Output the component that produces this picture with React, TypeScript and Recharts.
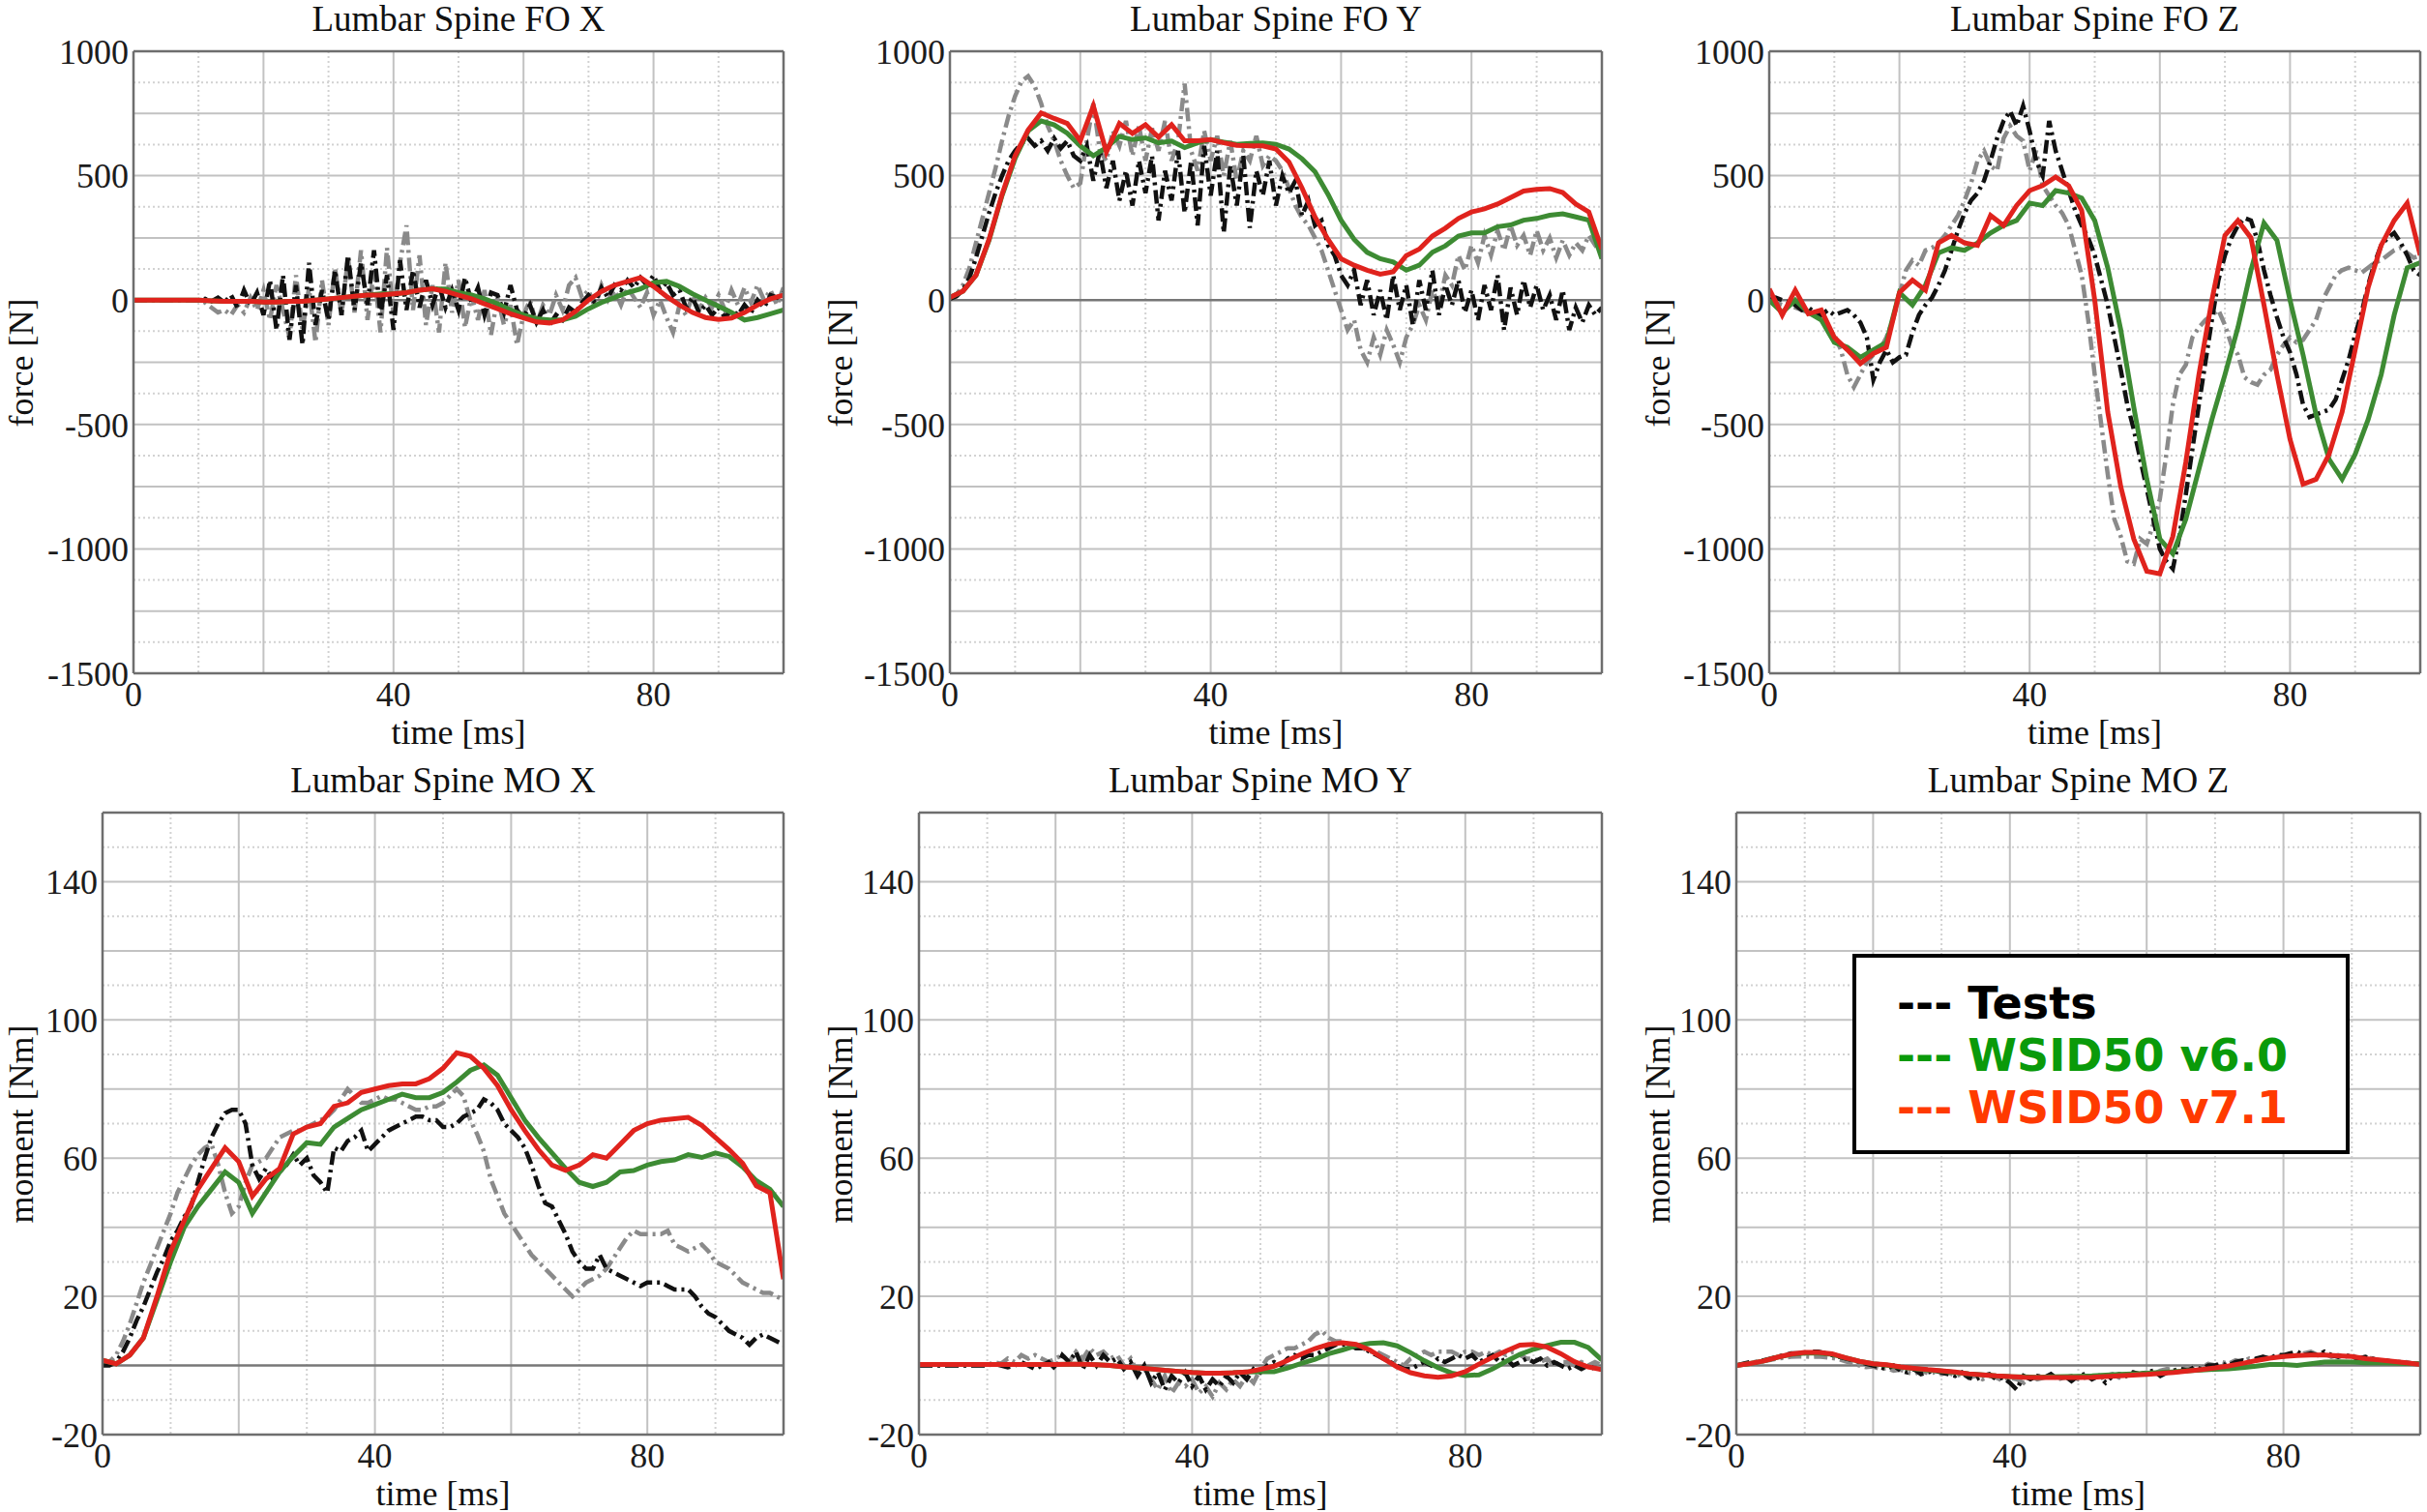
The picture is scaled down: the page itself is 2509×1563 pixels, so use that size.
import { CartesianGrid, Line, LineChart, ReferenceLine, XAxis, YAxis } from "recharts";

// sample instants [ms]
const T1 = [
  0, 1, 2, 3, 4, 5, 6, 7, 8, 9, 10, 11, 12, 13, 14, 15, 16, 17, 18, 19, 20, 21, 22, 23, 24, 25, 26, 27, 28, 29, 30,
  31, 32, 33, 34, 35, 36, 37, 38, 39, 40, 41, 42, 43, 44, 45, 46, 47, 48, 49, 50, 51, 52, 53, 54, 55, 56, 57, 58, 59,
  60, 61, 62, 63, 64, 65, 66, 67, 68, 69, 70, 71, 72, 73, 74, 75, 76, 77, 78, 79, 80, 81, 82, 83, 84, 85, 86, 87, 88,
  89, 90, 91, 92, 93, 94, 95, 96, 97, 98, 99, 100,
];
const T2 = [
  0, 2, 4, 6, 8, 10, 12, 14, 16, 18, 20, 22, 24, 26, 28, 30, 32, 34, 36, 38, 40, 42, 44, 46, 48, 50, 52, 54, 56, 58,
  60, 62, 64, 66, 68, 70, 72, 74, 76, 78, 80, 82, 84, 86, 88, 90, 92, 94, 96, 98, 100,
];

// Lumbar Spine FO X
const foxTestA = [
  0, 0, 0, 0, 0, 0, 0, 0, 0, 0,
  0, 5, -5, 10, -10, 20, -30, 40, -20, 30,
  -60, 80, -120, 100, -160, 60, -180, 150, -100, 40,
  -80, 120, -60, 180, -40, 150, -20, 200, -60, 100,
  -120, 160, -40, 120, -30, 80, -20, 60, -30, 40,
  -40, 90, -10, 50, -60, 30, 20, -50, 60, -40,
  -70, -20, -90, -40, -100, -60, -80, -30, -50, -10,
  20, -10, 50, 10, 60, 40, 80, 50, 90, 60,
  100, 40, 70, 20, 40, -30, 10, -50, -20, -60,
  -30, -70, -40, -60, -20, -50, 0, -30, 20, 10, 30,
];
const foxTestB = [
  0, 0, 0, 0, 0, 0, 0, 0, 0, 0,
  0, -10, -30, -50, -40, -60, -20, -50, 10, -40,
  40, -80, 60, -40, -150, 100, -120, 50, -170, 80,
  -100, 130, -60, 170, -50, 200, -80, 120, -130, 210,
  -60, 150, 300, -40, 180, -100, 60, -130, 150, -50,
  80, -110, 20, -80, 40, -140, 10, -100, -20, -180,
  -60, 0, -100, -20, -60, 20, -40, 60, 90, 10,
  40, -30, 60, 0, 40, -20, 50, 10, -30, 30,
  -60, 0, -70, -130, -20, -60, 20, -40, 10, -30,
  20, -40, 40, -20, 50, -10, 60, 0, 40, -20, 50,
];
const foxV60 = [
  0, 0, 0, 0, 0, 0, -3, -5, -5, -5,
  -8, -8, -5, -5, 0, 5, 10, 15, 20, 25,
  25, 30, 40, 45, 45, 30, 20, 5, -15, -40,
  -60, -75, -80, -80, -65, -35, -10, 10, 30, 45,
  70, 75, 55, 25, 0, -25, -50, -80, -70, -55, -40,
];
const foxV71 = [
  0, 0, 0, 0, 0, 0, -3, -5, -5, -5,
  -8, -8, -5, -5, 0, 5, 10, 15, 20, 20,
  25, 30, 40, 45, 35, 20, 5, -15, -35, -55,
  -72, -88, -92, -80, -45, 0, 35, 60, 75, 90,
  55, 15, -20, -50, -70, -78, -72, -50, -20, 5, 20,
];

// Lumbar Spine FO Y
const foyTestA = [
  5, 15, 40, 90, 170, 260, 350, 430, 500, 560,
  600, 630, 650, 620, 640, 600, 650, 610, 640, 580,
  560, 620, 480, 600, 450, 560, 400, 520, 380, 560,
  430, 580, 320, 520, 400, 600, 350, 560, 300, 620,
  420, 600, 270, 540, 380, 580, 290, 520, 420, 560,
  380, 500, 430, 480, 340, 400, 300, 320, 220, 180,
  100, 60, 120, -20, 80, -60, 40, -80, 100, -40,
  60, -100, 80, -40, 120, -60, 60, -20, 80, -50,
  40, -80, 60, -40, 100, -120, 50, -60, 80, -30,
  60, -40, 20, -80, 40, -120, -30, -90, -20, -60, -30,
];
const foyTestB = [
  5, 20, 60, 130, 230, 330, 430, 530, 640, 740,
  820, 880, 900, 860, 790, 700, 640, 560, 500, 450,
  470, 640, 790, 600, 560, 680, 620, 720, 580, 700,
  560, 690, 600, 720, 560, 640, 870, 600, 520, 680,
  560, 660, 500, 640, 480, 600, 560, 660, 540, 580,
  560, 520, 450, 380, 330, 300, 250, 200, 120, 40,
  -40, -120, -80, -200, -250, -150, -220, -120, -180, -250,
  -150, -100, -20, -80, 40, -20, 100, 60, 180, 120,
  220, 150, 260, 180, 280, 200, 300, 220, 260, 180,
  280, 200, 250, 170, 240, 180, 230, 200, 260, 220, 240,
];
const foyV60 = [
  10, 36, 100, 240, 420, 570, 680, 720, 704, 671,
  620, 580, 613, 658, 645, 652, 632, 639, 613, 632,
  645, 635, 626, 630, 632, 626, 607, 568, 516, 425,
  321, 244, 192, 166, 153, 120, 140, 192, 218, 257,
  270, 270, 295, 302, 321, 328, 341, 347, 334, 321, 166,
];
const foyV71 = [
  10, 36, 100, 244, 425, 580, 684, 752, 730, 710,
  640, 780, 595, 710, 670, 705, 655, 705, 640, 640,
  645, 632, 622, 620, 620, 607, 555, 451, 334, 244,
  166, 140, 120, 104, 114, 179, 205, 257, 289, 328,
  354, 367, 386, 412, 438, 445, 448, 432, 386, 354, 205,
];

// Lumbar Spine FO Z
const fozTestA = [
  0, 10, 0, -10, -20, -40, -30, -50, -60, -40,
  -60, -50, -40, -60, -90, -150, -320, -250, -200, -250,
  -230, -220, -130, -60, -20, 10, 60, 120, 200, 280,
  350, 400, 430, 480, 560, 650, 720, 760, 700, 780,
  680, 560, 500, 720, 600, 520, 440, 360, 300, 250,
  180, 80, -20, -150, -280, -420, -520, -640, -760, -880,
  -1000, -1050, -1080, -950, -780, -600, -420, -250, -80, 80,
  180, 250, 300, 330, 320, 240, 120, 20, -70, -150,
  -210, -300, -420, -470, -460, -450, -440, -400, -320, -240,
  -140, -50, 60, 150, 220, 250, 270, 230, 180, 120, 100,
];
const fozTestB = [
  0, -10, -20, -20, -30, -40, -50, -60, -80, -110,
  -140, -200, -300, -350, -300, -250, -220, -200, -150, -80,
  20, 120, 160, 140, 200, 210, 230, 260, 300, 340,
  400, 470, 560, 600, 540, 520, 650, 700, 660, 640,
  520, 600, 460, 420, 380, 350, 300, 200, 100, -80,
  -300, -500, -700, -880, -950, -1050, -1060, -960, -980, -900,
  -800, -620, -420, -300, -260, -150, -110, -80, -60, -40,
  -100, -180, -220, -310, -330, -340, -300, -280, -220, -180,
  -150, -170, -160, -120, -80, 0, 50, 100, 120, 130,
  120, 110, 130, 150, 160, 180, 200, 210, 190, 170, 180,
];
const fozV60 = [
  0, -50, 0, -50, -80, -170, -190, -230, -200, -170,
  30, -20, 60, 190, 210, 200, 230, 270, 300, 320,
  390, 380, 440, 430, 410, 320, 130, -120, -430, -720,
  -960, -1020, -880, -680, -480, -300, -110, 120, 310, 240,
  0, -220, -460, -640, -720, -620, -480, -300, -60, 130, 150,
];
const fozV71 = [
  45, -60, 40, -55, -40, -150, -200, -255, -215, -190,
  30, 80, 40, 230, 260, 230, 220, 340, 300, 380,
  440, 460, 495, 460, 360, 0, -450, -750, -960, -1090,
  -1100, -950, -650, -300, 0, 260, 320, 250, -20, -300,
  -560, -740, -720, -620, -450, -200, 50, 220, 320, 390, 180,
];

// Lumbar Spine MO X
const moxTestA = [
  0, 0, 1, 4, 8, 13, 17, 22, 27, 31,
  36, 39, 43, 46, 53, 60, 66, 70, 73, 74,
  74, 70, 58, 54, 57, 54, 56, 58, 61, 58,
  60, 55, 53, 50, 63, 62, 65, 66, 68, 62,
  64, 66, 68, 69, 70, 71, 72, 72, 71, 71,
  69, 69, 70, 72, 73, 74, 77, 76, 74, 70,
  68, 66, 63, 58, 52, 47, 46, 42, 38, 33,
  30, 28, 28, 32, 28, 27, 26, 25, 24, 23,
  24, 24, 24, 23, 22, 22, 22, 20, 17, 15,
  14, 12, 10, 9, 8, 6, 8, 9, 8, 7, 6,
];
const moxTestB = [
  0, 1, 3, 7, 12, 18, 24, 29, 34, 39,
  44, 50, 54, 58, 61, 63, 64, 58, 50, 44,
  46, 53, 58, 59, 60, 63, 66, 67, 68, 68,
  69, 70, 71, 72, 74, 77, 80, 78, 76, 76,
  77, 78, 77, 77, 76, 75, 74, 74, 75, 75,
  76, 78, 80, 78, 71, 67, 62, 54, 49, 44,
  41, 38, 35, 32, 30, 28, 26, 24, 22, 20,
  22, 24, 25, 26, 28, 31, 34, 37, 39, 38,
  38, 38, 38, 39, 35, 34, 33, 34, 35, 33,
  30, 29, 28, 26, 24, 23, 22, 21, 21, 20, 19,
];
const moxV60 = [
  1.5, 0.5, 3, 8, 19, 30, 40, 46, 51, 56,
  53, 44, 50, 56, 60.5, 64.5, 64, 69, 71.5, 74,
  75.5, 77, 78.5, 77.5, 77.5, 79, 82, 85.4, 87, 84,
  77.5, 71, 66, 61.5, 57, 53, 51.8, 53, 56, 56.4,
  58, 59, 59.5, 61, 60.2, 61.5, 60.5, 57.5, 53.5, 51, 46,
];
const moxV71 = [
  1.5, 0.5, 3, 8, 20, 33, 42, 51, 57, 63,
  59, 49, 54, 57, 67, 69, 70, 75, 76, 79,
  80, 81, 81.5, 81.5, 83, 86, 90.5, 89.5, 86, 81,
  74, 68, 62.5, 58, 56.5, 58, 61, 60, 64, 68,
  70, 71, 71.4, 71.8, 69.5, 66, 62.5, 58.5, 52, 50, 25,
];

// Lumbar Spine MO Y
const moyTestA = [
  0, 0, 0, 0, 0, 0, 0, 0, 0, 0,
  0, 0.5, 0, -0.5, 0, 1, 0, -1, 0, 1,
  -1, 3, 1, 4, -1, 3, 0, 3, 1, 2,
  -1, 1, -3, 0, -5, -2, -7, -3, -5, -2,
  -6, -3, -7, -4, -6, -3, -5, -2, -4, -1,
  -2, 0, 1, 0, 2, 3, 2, 3, 3, 4,
  5, 6, 6, 6, 5, 5, 4, 3, 2, 1,
  0, -1, -1, 0, 1, 0, 2, 1, 2, 3,
  2, 3, 1, 2, 3, 1, 2, 0, 1, 2,
  1, 2, 0, 1, 0, -1, 0, -1, 0, -1, -1,
];
const moyTestB = [
  0, 0, 0, 0, 0, 0, 0, 0, 0, 0,
  0, 1, 0.5, 2, 1, 3, 2, 3, 2, 1,
  2, 3, 1, 4, 2, 5, 3, 4, 2, 3,
  0, 2, -2, -1, -4, -7, -3, -8, -5, -6,
  -4, -8, -6, -9, -5, -7, -4, -6, -3, -5,
  -1, 2, 3, 4, 5, 5, 6, 7, 9, 10,
  8, 7, 7, 6, 5, 5, 4, 4, 3, 2,
  1, 0, 2, 3, 4, 3, 4, 4, 4, 3,
  4, 4, 3, 4, 3, 4, 3, 4, 3, 2,
  2, 1, 2, 0, 1, 1, 0, 1, 0, 1, 0,
];
const moyV60 = [
  0.3, 0.3, 0.3, 0.3, 0.3, 0.3, 0.3, 0.3, 0.3, 0.3,
  0.3, 0.4, 0.4, 0.2, 0, -0.4, -0.7, -1, -1.4, -1.7,
  -2, -2.2, -2.2, -2.1, -1.9, -1.8, -1.8, -0.7, 0.6, 1.8,
  3.4, 4.5, 5.7, 6.4, 6.6, 5.7, 3.7, 1.4, -0.6, -2.2,
  -2.9, -2.7, -1, 1.2, 3.2, 4.7, 5.8, 6.7, 6.7, 5.2, 1.6,
];
const moyV71 = [
  0.3, 0.3, 0.3, 0.3, 0.3, 0.3, 0.3, 0.3, 0.3, 0.3,
  0.3, 0.4, 0.4, 0.2, 0, -0.4, -0.7, -1, -1.4, -1.7,
  -2, -2.2, -2.2, -2.1, -1.9, -1.1, -0.2, 1.5, 3.3, 4.9,
  6.1, 6.6, 6.1, 4.5, 2, -0.4, -2.1, -3, -3.4, -3,
  -1.8, 0.4, 2.4, 4.2, 5.9, 6.1, 5.3, 3.4, 1.1, -0.4, -1.2,
];

// Lumbar Spine MO Z
const mozTestA = [
  0, 0.5, 1, 1, 1.5, 2, 2.5, 3, 3.5, 3.5,
  3.5, 4, 4, 3.5, 3, 2.5, 2, 1.5, 1, 0.5,
  0, -0.5, -1, 0, -1.5, -2, -1, -2.5, -2, -1.5,
  -2, -2.5, -3, -2, -3.5, -4, -3, -2.5, -4, -3.5,
  -5, -7, -3, -4, -3, -3.5, -2.5, -4, -3, -4.5,
  -3, -2.5, -4, -3, -5, -3, -2.5, -3, -2, -2.5,
  -2, -1.5, -3, -2, -1.5, -1, -1.5, -0.5, -1, 0,
  0, 0.5, 0, 1, 1.5, 1, 2, 2.5, 2, 3,
  3, 3.5, 4, 3, 3.5, 3, 4, 3, 2.5, 3,
  2.5, 2, 2.5, 2, 1.5, 1.5, 1, 1, 0.5, 0.5, 0.5,
];
const mozTestB = [
  0, 0.3, 0.6, 1, 1.3, 1.6, 2, 2.2, 2.5, 2.6,
  2.6, 2.5, 2.6, 2.4, 2.2, 1.8, 1.2, 0.6, 0, -0.5,
  -0.3, -1, -0.8, -1.5, -1.2, -2, -2.5, -1.5, -2.2, -2,
  -2.5, -2, -3, -2.5, -3.5, -3, -4, -3, -3.5, -4.5,
  -3.5, -4, -5, -3, -4, -3.5, -3, -4, -3.5, -3,
  -4, -3.5, -3, -4, -3, -2.5, -3.5, -3, -2, -2.5,
  -2, -2.5, -1.5, -1, -1.5, -0.5, -1, 0, -0.5, 0.5,
  0, 1, 0.5, 1.5, 1, 2, 1.5, 2.5, 2, 3,
  2.5, 3.5, 3, 3.5, 4, 3, 3.5, 2.5, 3, 2.5,
  3, 2, 2.5, 2, 1.5, 1, 1.5, 0.5, 1, 0.5, 0.5,
];
const mozV60 = [
  0, 0.6, 1.3, 2.4, 3.2, 3.6, 3.6, 3.2, 2.2, 1.2,
  0.5, 0.1, -0.5, -0.9, -1.3, -1.6, -2, -2.4, -2.7, -3,
  -3.2, -3.3, -3.4, -3.3, -3.2, -3.1, -3, -2.8, -2.6, -2.4,
  -2.2, -2, -1.8, -1.5, -1.3, -1.1, -1, -0.6, -0.2, 0.3,
  0.3, 0, 0.5, 1, 1.1, 1, 0.8, 0.8, 0.7, 0.6, 0.5,
];
const mozV71 = [
  0, 0.6, 1.3, 2.4, 3.3, 3.8, 3.8, 3.4, 2.2, 1.2,
  0.5, 0.2, -0.4, -0.8, -1.2, -1.5, -1.9, -2.4, -2.7, -3,
  -3.2, -3.4, -3.5, -3.5, -3.5, -3.5, -3.4, -3.2, -3, -2.8,
  -2.6, -2.3, -2, -1.6, -1.2, -0.7, -0.1, 0.6, 1.4, 2.1,
  2.6, 2.9, 3, 3, 2.8, 2.6, 2, 1.6, 1.2, 0.8, 0.3,
];

// axes and grid
const TIME_TICKS = [0, 40, 80];
const TIME_MAJOR = [20, 40, 60, 80];
const TIME_MINOR = [10, 30, 50, 70, 90];
const FORCE_TICKS = [1000, 500, 0, -500, -1000, -1500];
const FORCE_MAJOR = [-1250, -1000, -750, -500, -250, 250, 500, 750];
const FORCE_MINOR = [-1375, -1125, -875, -625, -375, -125, 125, 375, 625, 875];
const MOMENT_TICKS = [-20, 20, 60, 100, 140];
const MOMENT_MAJOR = [20, 40, 60, 80, 100, 120, 140];
const MOMENT_MINOR = [-10, 10, 30, 50, 70, 90, 110, 130, 150];

const LEGEND_ITEMS = [
  { label: "--- Tests", color: "#000000" },
  { label: "--- WSID50 v6.0", color: "#0a9a0a" },
  { label: "--- WSID50 v7.1", color: "#ff3a00" },
];

const FONT = '"Liberation Serif", "Times New Roman", serif';
const LEGEND_FONT = '"DejaVu Sans", Verdana, sans-serif';
const MT = 30;
const MR = 5;
const XH = 50;

type Row = { t: number; v: number };
type Series = { name: string; rows: Row[]; color: string; width: number; dash?: string };
type Panel = {
  title: string;
  yLabel: string;
  left: number;
  top: number;
  width: number;
  height: number;
  yAxisWidth: number;
  yLabelX: number;
  yDomain: [number, number];
  yTicks: number[];
  yMajor: number[];
  yMinor: number[];
  series: Series[];
};

const toRows = (times: number[], values: number[]): Row[] => times.map((t, i) => ({ t, v: values[i] }));

const makeSeries = (a: number[], b: number[], v60: number[], v71: number[]): Series[] => [
  { name: "test B", rows: toRows(T1, b), color: "#8a8a8a", width: 4.5, dash: "14 5 3 5" },
  { name: "test A", rows: toRows(T1, a), color: "#111111", width: 4.5, dash: "14 5 3 5" },
  { name: "WSID50 v6.0", rows: toRows(T2, v60), color: "#3d8b33", width: 5 },
  { name: "WSID50 v7.1", rows: toRows(T2, v71), color: "#e0231d", width: 5 },
];

const forceAxis = { yDomain: [-1500, 1000] as [number, number], yTicks: FORCE_TICKS, yMajor: FORCE_MAJOR, yMinor: FORCE_MINOR };
const momentAxis = { yDomain: [-20, 160] as [number, number], yTicks: MOMENT_TICKS, yMajor: MOMENT_MAJOR, yMinor: MOMENT_MINOR };

const PANELS: Panel[] = [
  { title: "Lumbar Spine FO X", yLabel: "force [N]", left: 138, top: 53, width: 672, height: 643, yAxisWidth: 130, yLabelX: 22, ...forceAxis, series: makeSeries(foxTestA, foxTestB, foxV60, foxV71) },
  { title: "Lumbar Spine FO Y", yLabel: "force [N]", left: 982, top: 53, width: 674, height: 643, yAxisWidth: 130, yLabelX: 869, ...forceAxis, series: makeSeries(foyTestA, foyTestB, foyV60, foyV71) },
  { title: "Lumbar Spine FO Z", yLabel: "force [N]", left: 1829, top: 53, width: 673, height: 643, yAxisWidth: 130, yLabelX: 1714, ...forceAxis, series: makeSeries(fozTestA, fozTestB, fozV60, fozV71) },
  { title: "Lumbar Spine MO X", yLabel: "moment [Nm]", left: 106, top: 840, width: 704, height: 643, yAxisWidth: 100, yLabelX: 22, ...momentAxis, series: makeSeries(moxTestA, moxTestB, moxV60, moxV71) },
  { title: "Lumbar Spine MO Y", yLabel: "moment [Nm]", left: 950, top: 840, width: 706, height: 643, yAxisWidth: 100, yLabelX: 869, ...momentAxis, series: makeSeries(moyTestA, moyTestB, moyV60, moyV71) },
  { title: "Lumbar Spine MO Z", yLabel: "moment [Nm]", left: 1795, top: 840, width: 707, height: 643, yAxisWidth: 100, yLabelX: 1714, ...momentAxis, series: makeSeries(mozTestA, mozTestB, mozV60, mozV71) },
];

const tickStyle = { fontSize: 36, fill: "#1c1c1c", fontFamily: FONT };

const textAt = (x: number, y: number, rotate = false): React.CSSProperties => ({
  position: "absolute",
  left: x,
  top: y,
  transform: `translate(-50%, -50%)${rotate ? " rotate(-90deg)" : ""}`,
  whiteSpace: "nowrap",
  fontFamily: FONT,
  fontSize: 36,
  lineHeight: 1,
  color: "#111",
});

function PanelChart({ p }: { p: Panel }) {
  const cx = p.left + p.width / 2;
  const border = { stroke: "#6e6e6e", strokeWidth: 2.5 };
  return (
    <>
      <div style={{ position: "absolute", left: p.left - p.yAxisWidth, top: p.top - MT }}>
        <LineChart width={p.yAxisWidth + p.width + MR} height={MT + p.height + XH} margin={{ top: MT, right: MR, bottom: 0, left: 0 }}>
          <CartesianGrid stroke="#d2d2d2" strokeWidth={2} strokeDasharray="2 3" horizontalValues={p.yMinor} verticalValues={TIME_MINOR} />
          <CartesianGrid stroke="#c2c2c2" strokeWidth={2} horizontalValues={p.yMajor} verticalValues={TIME_MAJOR} />
          <CartesianGrid stroke="#777777" strokeWidth={2.5} horizontalValues={[0]} vertical={false} />
          <XAxis
            dataKey="t"
            type="number"
            domain={[0, 100]}
            ticks={TIME_TICKS}
            interval={0}
            allowDataOverflow
            axisLine={false}
            tickLine={false}
            tickSize={0}
            tickMargin={8}
            height={XH}
            tick={tickStyle}
          />
          <YAxis
            type="number"
            domain={p.yDomain}
            ticks={p.yTicks}
            interval={0}
            allowDataOverflow
            axisLine={false}
            tickLine={false}
            tickSize={0}
            tickMargin={5}
            width={p.yAxisWidth}
            tick={tickStyle}
          />
          {p.series.map((s) => (
            <Line
              key={s.name}
              data={s.rows}
              dataKey="v"
              type="linear"
              stroke={s.color}
              strokeWidth={s.width}
              strokeDasharray={s.dash}
              dot={false}
              activeDot={false}
              isAnimationActive={false}
            />
          ))}
          <ReferenceLine x={0} {...border} />
          <ReferenceLine x={100} {...border} />
          <ReferenceLine y={p.yDomain[0]} {...border} />
          <ReferenceLine y={p.yDomain[1]} {...border} />
        </LineChart>
      </div>
      <div style={{ ...textAt(cx, p.top - 34), fontSize: 37 }}>{p.title}</div>
      <div style={textAt(cx, p.top + p.height + 61)}>time [ms]</div>
      <div style={textAt(p.yLabelX, p.top + p.height / 2, true)}>{p.yLabel}</div>
    </>
  );
}

export default function App() {
  return (
    <div style={{ position: "absolute", left: 0, top: 0, width: 2509, height: 1563, overflow: "hidden", background: "#fff" }}>
      {PANELS.map((p) => (
        <PanelChart key={p.title} p={p} />
      ))}
      <div
        style={{
          position: "absolute",
          left: 1915,
          top: 986,
          width: 514,
          height: 207,
          boxSizing: "border-box",
          border: "4px solid #000",
          background: "#fff",
          paddingLeft: 42,
          paddingTop: 20,
        }}
      >
        {LEGEND_ITEMS.map((item) => (
          <div
            key={item.label}
            style={{ color: item.color, fontFamily: LEGEND_FONT, fontWeight: "bold", fontSize: 46, lineHeight: "54px", whiteSpace: "pre" }}
          >
            {item.label}
          </div>
        ))}
      </div>
    </div>
  );
}
